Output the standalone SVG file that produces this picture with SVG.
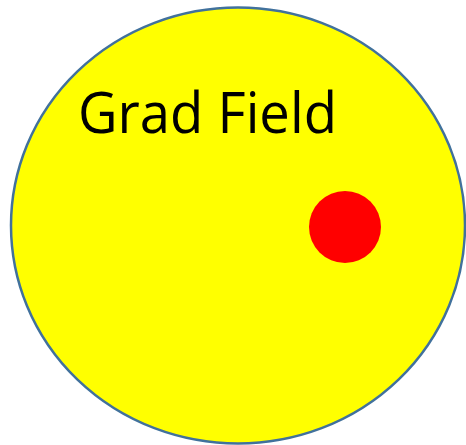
<svg xmlns="http://www.w3.org/2000/svg" width="466" height="445" viewBox="0 0 466 445">
<style>
.field{fill:#FFFF00;stroke:#41719C;stroke-width:2.5}
.dot{fill:#FF0000}
.lbl{font-family:"Open Sans","Noto Sans","Liberation Sans",sans-serif;font-size:56px;fill:#000}
</style>
<rect width="466" height="445" fill="#fff"/>
<g id="field">
<ellipse class="field" cx="238" cy="225.5" rx="227" ry="218"/>
<text class="lbl" x="78" y="133" textLength="259" lengthAdjust="spacingAndGlyphs">Grad Field</text>
</g>
<g id="dot">
<circle class="dot" cx="345" cy="227" r="36"/>
</g>
<g id="connectors"/>
</svg>
